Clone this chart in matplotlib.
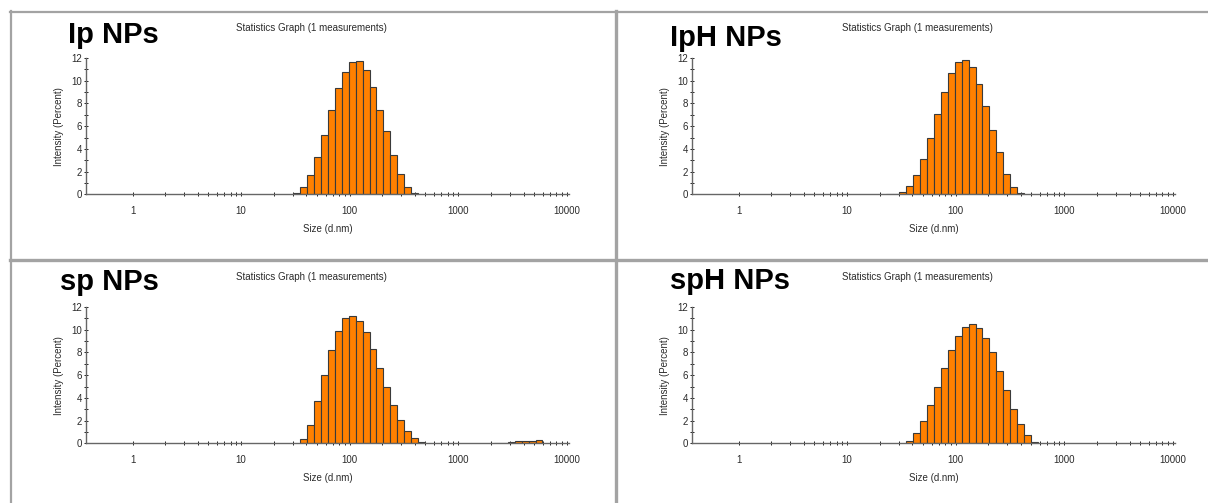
import numpy as np
import matplotlib
matplotlib.use("Agg")
import matplotlib.pyplot as plt
from matplotlib.lines import Line2D

# ── DATA ─────────────────────────────────────────────────────────────────────
# Zetasizer size classes (d.nm) that carry intensity, per sample
IP_SIZE = [32.67, 37.84, 43.82, 50.75, 58.77, 68.06, 78.82, 91.28, 105.7,
           122.4, 141.8, 164.2, 190.1, 220.2, 255.0, 295.3, 342.0, 396.1]
IP_INT = [0.12, 0.68, 1.66, 3.27, 5.24, 7.38, 9.32, 10.81, 11.62,
          11.76, 10.93, 9.47, 7.38, 5.54, 3.45, 1.79, 0.68, 0.09]

IPH_SIZE = [24.36, 28.21, 32.67, 37.84, 43.82, 50.75, 58.77, 68.06, 78.82,
            91.28, 105.7, 122.4, 141.8, 164.2, 190.1, 220.2, 255.0, 295.3,
            342.0, 396.1]
IPH_INT = [0.04, 0.05, 0.23, 0.74, 1.66, 3.12, 5.0, 7.08, 9.02,
           10.72, 11.62, 11.8, 11.2, 9.71, 7.77, 5.66, 3.72, 1.79,
           0.68, 0.14]

SP_SIZE = [37.84, 43.82, 50.75, 58.77, 68.06, 78.82, 91.28, 105.7, 122.4,
           141.8, 164.2, 190.1, 220.2, 255.0, 295.3, 342.0, 396.1, 458.7,
           2305, 2669, 3091, 3580, 4145, 4801, 5560]
SP_INT = [0.35, 1.63, 3.7, 6.0, 8.2, 9.9, 11.0, 11.2, 10.8,
          9.8, 8.3, 6.6, 4.95, 3.4, 2.04, 1.05, 0.47, 0.09,
          0.02, 0.03, 0.08, 0.16, 0.18, 0.2, 0.25]

SPH_SIZE = [37.84, 43.82, 50.75, 58.77, 68.06, 78.82, 91.28, 105.7, 122.4,
            141.8, 164.2, 190.1, 220.2, 255.0, 295.3, 342.0, 396.1, 458.7,
            531.2]
SPH_INT = [0.23, 0.87, 1.95, 3.35, 4.95, 6.65, 8.2, 9.45, 10.2,
           10.5, 10.15, 9.3, 8.0, 6.35, 4.66, 3.03, 1.72, 0.7,
           0.15]

NAMES = ["Ip NPs", "IpH NPs", "sp NPs", "spH NPs"]
TITLE = "Statistics Graph (1 measurements)"
X_TICKS = [1, 10, 100, 1000, 10000]
X_LABELS = ["1", "10", "100", "1000", "10000"]
Y_TICKS = [0, 2, 4, 6, 8, 10, 12]

CLASS_RATIO = 1.158  # spacing between neighbouring size classes

# ── STIJL ────────────────────────────────────────────────────────────────────
ORANJE = "#ff8000"
RAND = "#3a3a3a"
KADER = "#a3a3a3"
TEKST = "#2b2b2b"

W, H = 1208, 503
plt.rcParams["font.family"] = ["Liberation Sans", "DejaVu Sans"]

# pixel layout: (axis left, axis bottom, name x, name baseline)
PANELS = [
    (85.7, 194.3, 68, 43.3),
    (691.7, 194.3, 670, 46.0),
    (85.7, 443.3, 60, 290.0),
    (691.7, 443.3, 670, 289.0),
]
AX_W, AX_H = 483.3, 136.3


def fx(x):
    return x / W


def fy(y):
    return 1 - y / H


def teken_paneel(ax, sizes, vals):
    s = np.array(sizes, dtype=float)
    half = np.sqrt(CLASS_RATIO)
    left = s / half
    ax.bar(left, vals, width=s * half - left, align="edge", color=ORANJE,
           edgecolor=RAND, linewidth=0.8, zorder=2)

    ax.set_xscale("log")
    ax.set_xlim(0.37, 10500)
    ax.set_ylim(0, 12)
    ax.set_xticks(X_TICKS)
    ax.set_xticklabels(X_LABELS)
    ax.set_xticks([k * 10 ** e for e in range(0, 4) for k in range(2, 10)],
                  minor=True)
    ax.set_yticks(Y_TICKS)
    ax.set_yticks([1, 3, 5, 7, 9, 11], minor=True)

    for side in ["top", "right"]:
        ax.spines[side].set_visible(False)
    for side in ["left", "bottom"]:
        ax.spines[side].set_color("#666666")
        ax.spines[side].set_linewidth(1.0)

    ax.tick_params(axis="x", which="both", direction="inout", length=3,
                   width=0.7, color="#222222", labelsize=7,
                   labelcolor=TEKST, pad=7)
    ax.tick_params(axis="y", which="both", direction="inout", length=3.5,
                   width=0.7, color="#222222", labelsize=7,
                   labelcolor=TEKST, pad=1)

    ax.text(0.5, -0.258, "Size (d.nm)", transform=ax.transAxes,
            ha="center", va="center", fontsize=7, color=TEKST)
    ax.text(-0.055, 0.5, "Intensity (Percent)", transform=ax.transAxes,
            ha="center", va="center", rotation=90, fontsize=7, color=TEKST)


fig = plt.figure(figsize=(W / 100, H / 100), dpi=100)

reeksen = [(IP_SIZE, IP_INT), (IPH_SIZE, IPH_INT),
           (SP_SIZE, SP_INT), (SPH_SIZE, SPH_INT)]

for (al, ab, nx, ny), naam, (sizes, vals) in zip(PANELS, NAMES, reeksen):
    ax = fig.add_axes([fx(al), fy(ab), AX_W / W, AX_H / H])
    teken_paneel(ax, sizes, vals)
    fig.text(fx(nx), fy(ny), naam, fontsize=21, fontweight="bold",
             ha="left", va="baseline", color="black")
    fig.text(fx(al + 226), fy(ab - 166), TITLE, fontsize=7,
             ha="center", va="center", color=TEKST)

# kaderlijnen rond de vier panelen
for (x0, y0, x1, y1, lw) in [(10, 11.5, W, 11.5, 1.6),
                             (10.5, 11, 10.5, H, 1.6),
                             (616, 11, 616, H, 2.4),
                             (10, 260, W, 260, 2.4)]:
    fig.add_artist(Line2D([fx(x0), fx(x1)], [fy(y0), fy(y1)],
                          transform=fig.transFigure, color=KADER,
                          linewidth=lw))

fig.savefig("out.png", dpi=100, facecolor="white")
